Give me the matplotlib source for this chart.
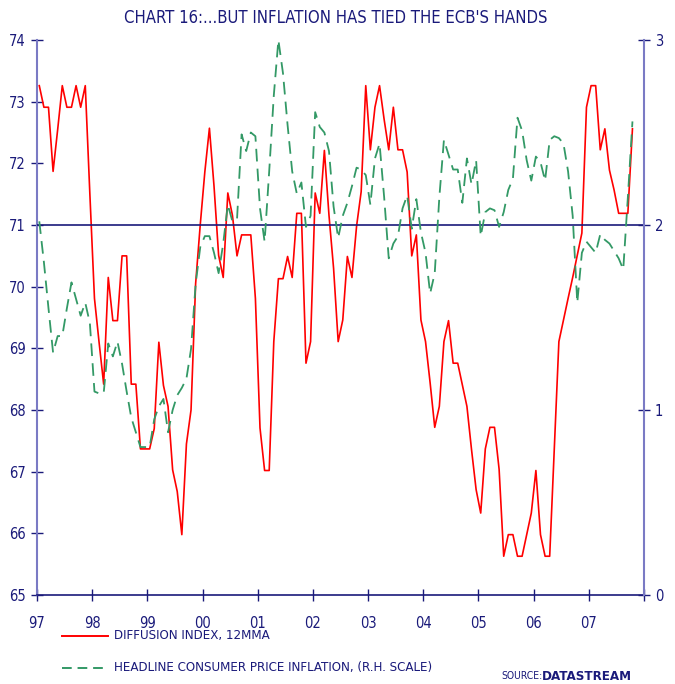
import numpy as np
import matplotlib.pyplot as plt
from matplotlib.lines import Line2D

# monthly data, Jan 1997 - Oct 2007
diffusion = [
    73.26, 72.91, 72.91, 71.87, 72.55, 73.26, 72.91, 72.91, 73.26, 72.91, 73.26, 71.50,
    69.81, 69.10, 68.42, 70.15, 69.45, 69.45, 70.50, 70.50, 68.42, 68.42, 67.37, 67.37,
    67.37, 67.70, 69.10, 68.40, 68.06, 67.03, 66.68, 65.98, 67.45, 68.00, 70.05, 71.00,
    71.86, 72.57, 71.63, 70.51, 70.15, 71.52, 71.16, 70.50, 70.84, 70.84, 70.84, 69.81,
    67.71, 67.02, 67.02, 69.11, 70.13, 70.13, 70.49, 70.15, 71.19, 71.19, 68.76, 69.11,
    71.52, 71.19, 72.21, 71.16, 70.30, 69.11, 69.46, 70.49, 70.15, 70.98, 71.54, 73.26,
    72.22, 72.91, 73.26, 72.71, 72.22, 72.91, 72.22, 72.22, 71.86, 70.50, 70.84, 69.46,
    69.11, 68.44, 67.72, 68.06, 69.11, 69.45, 68.76, 68.76, 68.41, 68.06, 67.36, 66.71,
    66.33, 67.37, 67.72, 67.72, 67.04, 65.63, 65.98, 65.98, 65.63, 65.63, 65.98, 66.33,
    67.02, 65.98, 65.63, 65.63, 67.36, 69.11, 69.46, 69.81, 70.15, 70.51, 70.87, 72.91,
    73.26, 73.26, 72.22, 72.56, 71.89, 71.57, 71.19, 71.19, 71.19, 72.56,
]
inflation = [
    2.02, 1.80, 1.55, 1.31, 1.40, 1.40, 1.55, 1.69, 1.60, 1.51, 1.58, 1.47,
    1.10, 1.09, 1.09, 1.36, 1.29, 1.37, 1.25, 1.10, 0.96, 0.88, 0.80, 0.80,
    0.80, 0.95, 1.02, 1.06, 0.88, 1.00, 1.08, 1.12, 1.17, 1.33, 1.68, 1.88,
    1.94, 1.94, 1.85, 1.74, 1.90, 2.11, 2.02, 2.03, 2.49, 2.40, 2.50, 2.48,
    2.09, 1.91, 2.29, 2.70, 3.00, 2.82, 2.54, 2.29, 2.17, 2.23, 1.99, 2.05,
    2.61, 2.53, 2.50, 2.40, 2.10, 1.93, 2.05, 2.12, 2.21, 2.31, 2.30, 2.27,
    2.11, 2.36, 2.44, 2.15, 1.82, 1.90, 1.94, 2.09, 2.16, 1.98, 2.14, 1.96,
    1.85, 1.63, 1.74, 2.15, 2.46, 2.38, 2.30, 2.30, 2.12, 2.36, 2.22, 2.35,
    1.94, 2.07, 2.09, 2.08, 1.99, 2.07, 2.19, 2.25, 2.58, 2.51, 2.35, 2.24,
    2.37, 2.34, 2.24, 2.46, 2.48, 2.47, 2.44, 2.29, 2.05, 1.58, 1.85, 1.91,
    1.88, 1.85, 1.95, 1.92, 1.90, 1.86, 1.82, 1.76, 2.15, 2.56,
]
start_year = 1997
year_labels = ["97", "98", "99", "00", "01", "02", "03", "04", "05", "06", "07"]
left_ticks = [65, 66, 67, 68, 69, 70, 71, 72, 73, 74]
right_ticks = [0, 1, 2, 3]

navy = "#1a1a7a"
axis_blue = "#7a7ac4"
red = "#ff0000"
green = "#339966"

plt.rcParams["font.family"] = ["DejaVu Sans"]
plt.rcParams["font.stretch"] = "condensed"

x = start_year + (np.arange(len(diffusion)) + 0.5) / 12

fig = plt.figure(figsize=(6.75, 6.84), dpi=100)
ax = fig.add_axes([0.0548, 0.13, 0.8992, 0.8115])
ax2 = ax.twinx()

ax.plot(x, diffusion, color=red, lw=1.2, zorder=3)
ax2.plot(x, inflation, color=green, lw=1.3, dashes=(7, 4), zorder=2)
ax.axhline(71, color=navy, lw=1.2, zorder=4)

ax.set_xlim(start_year, start_year + 11)
ax.set_ylim(65, 74)
ax2.set_ylim(0, 3)

ax.set_xticks(np.arange(start_year, start_year + 12))
ax.set_xticklabels(year_labels + [""])
ax.set_yticks(left_ticks)
ax2.set_yticks(right_ticks)

for a in (ax, ax2):
    for s in a.spines.values():
        s.set_visible(False)
ax.spines["left"].set_visible(True)
ax.spines["left"].set_color(axis_blue)
ax.spines["left"].set_linewidth(1.5)
ax.spines["bottom"].set_visible(True)
ax.spines["bottom"].set_color(navy)
ax.spines["bottom"].set_linewidth(1.2)
ax2.spines["right"].set_visible(True)
ax2.spines["right"].set_color(axis_blue)
ax2.spines["right"].set_linewidth(1.5)

ax.tick_params(axis="x", direction="inout", length=8, width=1, color=navy,
               labelcolor=navy, labelsize=10.5, pad=11)
ax.tick_params(axis="y", direction="inout", length=8, width=1, color=navy,
               labelcolor=navy, labelsize=10.5, pad=4)
ax2.tick_params(axis="y", direction="inout", length=8, width=1, color=navy,
                labelcolor=navy, labelsize=10.5, pad=4)

fig.text(0.498, 0.973, "CHART 16:...BUT INFLATION HAS TIED THE ECB'S HANDS",
         ha="center", va="center", color=navy, fontsize=12)

# legend drawn by hand under the axes
fig.add_artist(Line2D([62 / 675, 108 / 675], [1 - 636 / 684] * 2, color=red, lw=1.4))
fig.add_artist(Line2D([62 / 675, 108 / 675], [1 - 668 / 684] * 2, color=green,
                      lw=1.4, dashes=(5, 3)))
fig.text(114 / 675, 1 - 636 / 684, "DIFFUSION INDEX, 12MMA", ha="left", va="center",
         color=navy, fontsize=9.5)
fig.text(114 / 675, 1 - 668 / 684, "HEADLINE CONSUMER PRICE INFLATION, (R.H. SCALE)",
         ha="left", va="center", color=navy, fontsize=9.5)
fig.text(501 / 675, 1 - 676 / 684, "SOURCE:", ha="left", va="center",
         color=navy, fontsize=7.5)
fig.text(632 / 675, 1 - 676 / 684, "DATASTREAM", ha="right", va="center",
         color=navy, fontsize=9.5, fontweight="bold")

fig.savefig("out.png", dpi=100)
